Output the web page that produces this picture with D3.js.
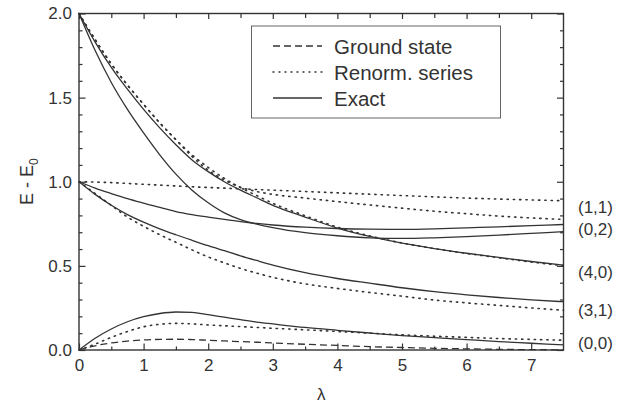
<!DOCTYPE html>
<html>
<head>
<meta charset="utf-8">
<script src="https://cdn.jsdelivr.net/npm/d3@7"></script>
<style>
  html, body { margin: 0; padding: 0; background: #fff; }
  svg { display: block; font-family: "Liberation Sans", Arial, sans-serif; }
</style>
</head>
<body>
<svg id="chart" width="620" height="407"></svg>
<script>
// Coupling strength grid
const lambda = [0, 0.25, 0.5, 0.75, 1, 1.25, 1.5, 1.75, 2, 2.25, 2.5, 2.75, 3, 3.5, 4, 4.5, 5, 5.5, 6, 6.5, 7, 7.5];

// Exact excitation energies
const exact40 = [2.0, 1.83, 1.68, 1.55, 1.43, 1.32, 1.22, 1.13, 1.06, 1.0, 0.95, 0.905, 0.86, 0.79, 0.725, 0.675, 0.635, 0.603, 0.575, 0.55, 0.526, 0.505];
const exact02 = [2.0, 1.78, 1.59, 1.43, 1.29, 1.16, 1.045, 0.95, 0.875, 0.815, 0.775, 0.748, 0.727, 0.697, 0.679, 0.667, 0.663, 0.667, 0.674, 0.683, 0.693, 0.703];
const exact11 = [1.0, 0.962, 0.93, 0.90, 0.873, 0.847, 0.823, 0.805, 0.79, 0.776, 0.763, 0.752, 0.743, 0.73, 0.722, 0.718, 0.717, 0.72, 0.726, 0.732, 0.739, 0.746];
const exact31 = [1.0, 0.925, 0.86, 0.805, 0.76, 0.72, 0.685, 0.652, 0.62, 0.59, 0.56, 0.532, 0.505, 0.46, 0.425, 0.397, 0.37, 0.347, 0.328, 0.312, 0.298, 0.287];
const exact00 = [0, 0.07, 0.125, 0.168, 0.198, 0.217, 0.226, 0.224, 0.21, 0.195, 0.18, 0.166, 0.155, 0.134, 0.117, 0.101, 0.086, 0.074, 0.062, 0.05, 0.04, 0.03];

// Renormalized series
const renorm40 = [2.0, 1.845, 1.70, 1.575, 1.46, 1.35, 1.25, 1.16, 1.085, 1.02, 0.965, 0.918, 0.872, 0.798, 0.73, 0.678, 0.636, 0.603, 0.574, 0.548, 0.523, 0.501];
const renorm02 = [2.0, 1.845, 1.70, 1.575, 1.46, 1.35, 1.25, 1.15, 1.07, 1.01, 0.968, 0.942, 0.925, 0.903, 0.882, 0.862, 0.843, 0.825, 0.81, 0.796, 0.785, 0.776];
const renorm11 = [1.0, 0.998, 0.995, 0.99, 0.985, 0.98, 0.975, 0.97, 0.966, 0.962, 0.958, 0.954, 0.95, 0.942, 0.934, 0.926, 0.918, 0.91, 0.903, 0.897, 0.892, 0.887];
const renorm31 = [1.0, 0.93, 0.86, 0.79, 0.735, 0.685, 0.64, 0.595, 0.553, 0.518, 0.485, 0.457, 0.432, 0.393, 0.366, 0.342, 0.32, 0.297, 0.28, 0.265, 0.25, 0.236];
const renorm00 = [0, 0.035, 0.075, 0.11, 0.138, 0.153, 0.158, 0.155, 0.149, 0.144, 0.139, 0.134, 0.129, 0.12, 0.11, 0.1, 0.09, 0.082, 0.075, 0.068, 0.063, 0.058];

// Ground state
const ground = [0, 0.025, 0.042, 0.053, 0.06, 0.063, 0.064, 0.062, 0.058, 0.054, 0.05, 0.046, 0.042, 0.034, 0.027, 0.02, 0.015, 0.01, 0.007, 0.004, 0.002, 0.001];

// Ticks and labels
const xMajor = [0, 1, 2, 3, 4, 5, 6, 7];
const xMinor = [0.5, 1.5, 2.5, 3.5, 4.5, 5.5, 6.5];
const yMajor = [0, 0.5, 1.0, 1.5, 2.0];
const yMinor = [0.1, 0.2, 0.3, 0.4, 0.6, 0.7, 0.8, 0.9, 1.1, 1.2, 1.3, 1.4, 1.6, 1.7, 1.8, 1.9];
const stateLabels = ["(1,1)", "(0,2)", "(4,0)", "(3,1)", "(0,0)"];
const stateLabelY = [0.85, 0.72, 0.465, 0.24, 0.04];
const legendLabels = ["Ground state", "Renorm. series", "Exact"];

const ink = "#333";
const svg = d3.select("#chart");
const mLeft = 79, mRight = 563.5, mTop = 13.5, mBottom = 350;

const x = d3.scaleLinear().domain([0, 7.5]).range([mLeft, mRight]);
const y = d3.scaleLinear().domain([0, 2]).range([mBottom, mTop]);

const line = d3.line()
  .x((d, i) => x(lambda[i]))
  .y(d => y(d))
  .curve(d3.curveMonotoneX);

const dashes = {
  solid: null,
  dotted: "1.3,5",
  dashed: "7,4"
};

const series = [
  { v: ground, s: "dashed" },
  { v: renorm00, s: "dotted" },
  { v: renorm31, s: "dotted" },
  { v: renorm11, s: "dotted" },
  { v: renorm02, s: "dotted" },
  { v: renorm40, s: "dotted" },
  { v: exact00, s: "solid" },
  { v: exact31, s: "solid" },
  { v: exact11, s: "solid" },
  { v: exact02, s: "solid" },
  { v: exact40, s: "solid" }
];

const plot = svg.append("g");
plot.selectAll("path.curve")
  .data(series)
  .join("path")
  .attr("class", "curve")
  .attr("d", d => line(d.v))
  .attr("fill", "none")
  .attr("stroke", ink)
  .attr("stroke-width", d => d.s === "dotted" ? 1.6 : 1.3)
  .attr("stroke-linecap", d => d.s === "dotted" ? "round" : "butt")
  .attr("stroke-dasharray", d => dashes[d.s]);

// Axes with inward ticks
function styleAxis(g) {
  g.select(".domain").remove();
  g.selectAll(".tick line").attr("stroke", ink).attr("stroke-width", 1.2);
  g.selectAll(".tick text").attr("fill", ink).attr("font-size", 17);
}

svg.append("g").attr("transform", `translate(0,${mBottom})`)
  .call(d3.axisBottom(x).tickValues(xMajor).tickFormat(d3.format("d")).tickSize(-6.5).tickPadding(9))
  .call(styleAxis);
svg.append("g").attr("transform", `translate(0,${mBottom})`)
  .call(d3.axisBottom(x).tickValues(xMinor).tickFormat("").tickSize(-3.5))
  .call(styleAxis);
svg.append("g").attr("transform", `translate(0,${mTop})`)
  .call(d3.axisTop(x).tickValues(xMajor).tickFormat("").tickSize(-5.5))
  .call(styleAxis);
svg.append("g").attr("transform", `translate(0,${mTop})`)
  .call(d3.axisTop(x).tickValues(xMinor).tickFormat("").tickSize(-4.5))
  .call(styleAxis);

svg.append("g").attr("transform", `translate(${mLeft},0)`)
  .call(d3.axisLeft(y).tickValues(yMajor).tickFormat(d3.format(".1f")).tickSize(-6.5).tickPadding(7))
  .call(styleAxis);
svg.append("g").attr("transform", `translate(${mLeft},0)`)
  .call(d3.axisLeft(y).tickValues(yMinor).tickFormat("").tickSize(-3.5))
  .call(styleAxis);
svg.append("g").attr("transform", `translate(${mRight},0)`)
  .call(d3.axisRight(y).tickValues(yMajor).tickFormat("").tickSize(-6.5))
  .call(styleAxis);
svg.append("g").attr("transform", `translate(${mRight},0)`)
  .call(d3.axisRight(y).tickValues(yMinor).tickFormat("").tickSize(-3.5))
  .call(styleAxis);

// Frame
svg.append("rect")
  .attr("x", mLeft).attr("y", mTop)
  .attr("width", mRight - mLeft).attr("height", mBottom - mTop)
  .attr("fill", "none").attr("stroke", ink).attr("stroke-width", 1.4);

// Axis titles
svg.append("text")
  .attr("x", (mLeft + mRight) / 2).attr("y", 400)
  .attr("text-anchor", "middle")
  .attr("font-size", 17).attr("fill", ink)
  .text("λ");

const yTitle = svg.append("text")
  .attr("transform", `translate(33,${y(1.0)}) rotate(-90)`)
  .attr("text-anchor", "middle")
  .attr("font-size", 18).attr("fill", ink);
yTitle.append("tspan").text("E - E");
yTitle.append("tspan").attr("font-size", 12).attr("dy", 5).text("0");

// State labels at the right edge
svg.selectAll("text.state")
  .data(stateLabels)
  .join("text")
  .attr("class", "state")
  .attr("x", 578)
  .attr("y", (d, i) => y(stateLabelY[i]))
  .attr("dy", "0.35em")
  .attr("font-size", 17).attr("fill", ink)
  .text(d => d);

// Legend
const lg = svg.append("g");
lg.append("rect")
  .attr("x", 251.5).attr("y", 26)
  .attr("width", 249).attr("height", 92)
  .attr("fill", "#fff").attr("stroke", "#666").attr("stroke-width", 1);
const legendStyles = ["dashed", "dotted", "solid"];
legendLabels.forEach((t, i) => {
  const cy = 46 + i * 26;
  lg.append("line")
    .attr("x1", 273).attr("x2", 322)
    .attr("y1", cy).attr("y2", cy)
    .attr("stroke", ink)
    .attr("stroke-width", legendStyles[i] === "dotted" ? 1.4 : 1.3)
    .attr("stroke-linecap", legendStyles[i] === "dotted" ? "round" : "butt")
    .attr("stroke-dasharray", legendStyles[i] === "dotted" ? "1,5" : dashes[legendStyles[i]]);
  lg.append("text")
    .attr("x", 334).attr("y", cy + 7.5)
    .attr("font-size", 20.5).attr("fill", ink)
    .text(t);
});
</script>
</body>
</html>
